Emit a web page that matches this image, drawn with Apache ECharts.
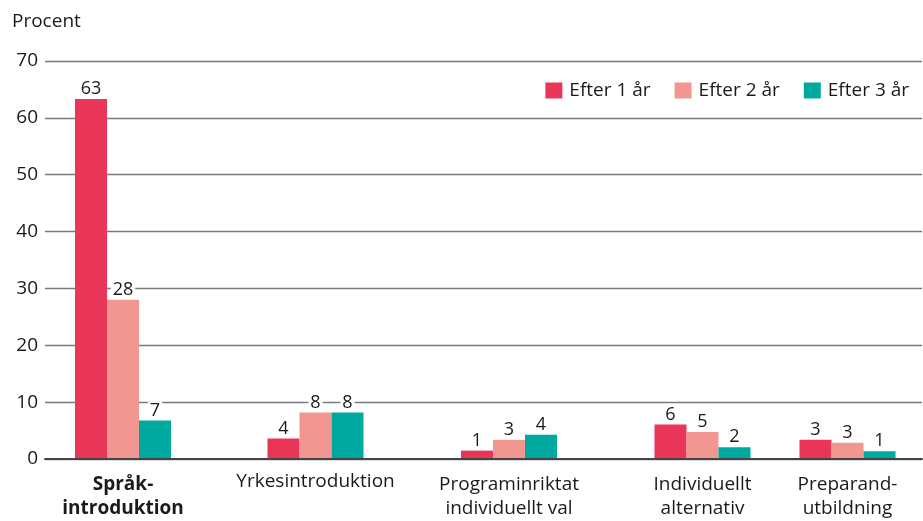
<!DOCTYPE html>
<html>
<head>
<meta charset="utf-8">
<script src="https://cdn.jsdelivr.net/npm/echarts@6/dist/echarts.min.js"></script>
<style>html,body{margin:0;padding:0;background:#fff}#c{width:923px;height:521px}</style>
</head>
<body>
<div id="c"></div>
<script>
// Data
var categories = ['Språk-\nintroduktion', 'Yrkesintroduktion', 'Programinriktat\nindividuellt val', 'Individuellt\nalternativ', 'Preparand-\nutbildning'];
var seriesNames = ['Efter 1 år', 'Efter 2 år', 'Efter 3 år'];
var efter1 = [63.3, 3.6, 1.3, 5.9, 3.2];
var efter2 = [27.9, 8.2, 3.2, 4.6, 2.7];
var efter3 = [6.6, 8.2, 4.1, 1.9, 1.2];
var yTicks = [0, 10, 20, 30, 40, 50, 60, 70];

// Layout (not data)
var groupCenters = [123, 315.5, 509, 702.5, 847.5];
var colors = ['#E83558', '#F29692', '#00A9A0'];
var textColor = '#1a1a1a';
var font = 'Open Sans';
var values = [efter1, efter2, efter3];

var grids = [{left: 45, right: 1, top: 61, bottom: 62}];
var xAxes = [{
  gridIndex: 0, type: 'category', data: [''],
  axisTick: {show: false}, axisLabel: {show: false},
  axisLine: {lineStyle: {color: '#444', width: 2}}, z: 5
}];
var yAxes = [{
  gridIndex: 0, type: 'value', min: yTicks[0], max: yTicks[yTicks.length - 1], interval: 10,
  axisLine: {show: false}, axisTick: {show: false},
  axisLabel: {color: textColor, fontSize: 19, fontFamily: font, margin: 7},
  splitLine: {lineStyle: {color: '#7a7a7a', width: 1.3}}
}];
var series = [];
categories.forEach(function (cat, i) {
  var gi = i + 1;
  var twoLine = cat.indexOf('\n') >= 0;
  grids.push({left: groupCenters[i] - 75, width: 150, top: 61, bottom: 62});
  xAxes.push({
    gridIndex: gi, type: 'category', data: [cat],
    axisLine: {show: false}, axisTick: {show: false},
    axisLabel: {
      interval: 0, color: textColor, fontSize: 19, fontFamily: font, lineHeight: 24,
      margin: twoLine ? 15 : 11,
      fontWeight: i === 0 ? 'bold' : 'normal'
    }
  });
  yAxes.push({gridIndex: gi, type: 'value', min: 0, max: 70, show: false, splitLine: {show: false}});
  seriesNames.forEach(function (name, s) {
    series.push({
      type: 'bar', name: name, xAxisIndex: gi, yAxisIndex: gi,
      data: [values[s][i]], barWidth: 32, barGap: '0%',
      itemStyle: {color: colors[s]},
      label: {
        show: true, position: 'top', distance: 1,
        color: textColor, fontSize: 18, fontFamily: font,
        backgroundColor: '#fff', padding: [0, 2, 0, 2],
        formatter: function (p) { return Math.round(p.value); }
      }
    });
  });
});

var chart = echarts.init(document.getElementById('c'));
chart.setOption({
  animation: false,
  backgroundColor: '#fff',
  title: {text: 'Procent', left: 7, top: 7, textStyle: {color: textColor, fontSize: 19, fontWeight: 'normal', fontFamily: font}},
  legend: {
    data: seriesNames, right: 9, top: 76, icon: 'rect', itemWidth: 17, itemHeight: 16, itemGap: 24,
    textStyle: {color: textColor, fontSize: 19, fontFamily: font, padding: [0, 0, 0, 2]}
  },
  grid: grids, xAxis: xAxes, yAxis: yAxes, series: series
});
</script>
</body>
</html>
